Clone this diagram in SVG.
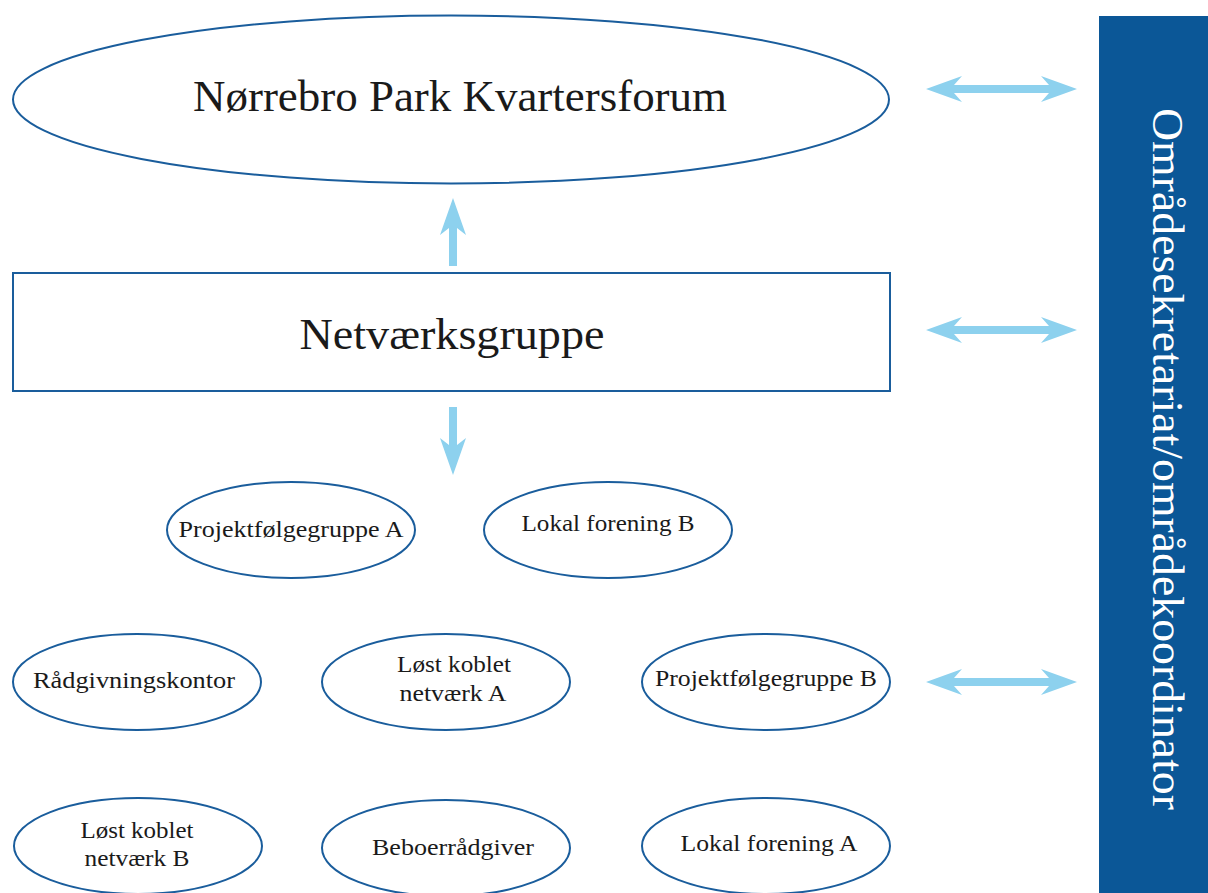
<svg xmlns="http://www.w3.org/2000/svg" width="1208" height="893" viewBox="0 0 1208 893">
<defs>
<style>
.n{fill:#fff;stroke:#1a5d9c;stroke-width:2}
.t{font-family:"Liberation Serif","DejaVu Serif",serif;fill:#1a1a1a;text-anchor:middle}
.s{font-size:24px}
.a{fill:#8dd1ee}
</style>
<path id="dbl" class="a" d="M0,0 L36,-13 L28,-4 L123,-4 L115,-13 L151,0 L115,13 L123,4 L28,4 L36,13 Z"/>
</defs>
<rect width="1208" height="893" fill="#fff"/>
<g id="sidebar">
<rect x="1099" y="16" width="109" height="877" fill="#0b5797"/>
<text class="t" transform="translate(1153,459) rotate(90)" style="font-size:45px;fill:#fff" textLength="702" lengthAdjust="spacingAndGlyphs">Områdesekretariat/områdekoordinator</text>
</g>
<g id="connectors">
<use href="#dbl" x="926" y="89"/>
<use href="#dbl" x="926" y="330"/>
<use href="#dbl" x="926" y="682"/>
<path class="a" d="M453,198 L466,235 L457,228 L457,266 L449,266 L449,228 L440,235 Z"/>
<path class="a" d="M453,475 L466,438 L457,445 L457,407 L449,407 L449,445 L440,438 Z"/>
</g>
<g id="forum">
<ellipse class="n" cx="451" cy="99.5" rx="438" ry="84"/>
<text class="t" x="460" y="111" style="font-size:44px" textLength="534" lengthAdjust="spacingAndGlyphs">Nørrebro Park Kvartersforum</text>
</g>
<g id="netvaerk">
<rect class="n" x="13" y="273" width="877" height="118"/>
<text class="t" x="452" y="349" style="font-size:44px" textLength="305" lengthAdjust="spacingAndGlyphs">Netværksgruppe</text>
</g>
<g id="pfa">
<ellipse class="n" cx="291" cy="530" rx="124" ry="48"/>
<text class="t s" x="291" y="537" textLength="225" lengthAdjust="spacingAndGlyphs">Projektfølgegruppe A</text>
</g>
<g id="lfb">
<ellipse class="n" cx="608" cy="530" rx="124" ry="48"/>
<text class="t s" x="608" y="531" textLength="173" lengthAdjust="spacingAndGlyphs">Lokal forening B</text>
</g>
<g id="raad">
<ellipse class="n" cx="137" cy="682" rx="124" ry="48"/>
<text class="t s" x="134" y="688" textLength="202" lengthAdjust="spacingAndGlyphs">Rådgivningskontor</text>
</g>
<g id="lkna">
<ellipse class="n" cx="446" cy="682" rx="124" ry="48"/>
<text class="t s" x="454" y="672" textLength="114" lengthAdjust="spacingAndGlyphs">Løst koblet</text>
<text class="t s" x="453" y="701" textLength="107" lengthAdjust="spacingAndGlyphs">netværk A</text>
</g>
<g id="pfb">
<ellipse class="n" cx="766" cy="682" rx="124" ry="48"/>
<text class="t s" x="766" y="686" textLength="222" lengthAdjust="spacingAndGlyphs">Projektfølgegruppe B</text>
</g>
<g id="lknb">
<ellipse class="n" cx="138" cy="846" rx="124" ry="48"/>
<text class="t s" x="137" y="838" textLength="113" lengthAdjust="spacingAndGlyphs">Løst koblet</text>
<text class="t s" x="137" y="866" textLength="105" lengthAdjust="spacingAndGlyphs">netværk B</text>
</g>
<g id="bebo">
<ellipse class="n" cx="446" cy="848" rx="124" ry="48"/>
<text class="t s" x="453" y="855" textLength="162" lengthAdjust="spacingAndGlyphs">Beboerrådgiver</text>
</g>
<g id="lfa">
<ellipse class="n" cx="766" cy="846" rx="124" ry="48"/>
<text class="t s" x="769" y="851" textLength="177" lengthAdjust="spacingAndGlyphs">Lokal forening A</text>
</g>
</svg>
